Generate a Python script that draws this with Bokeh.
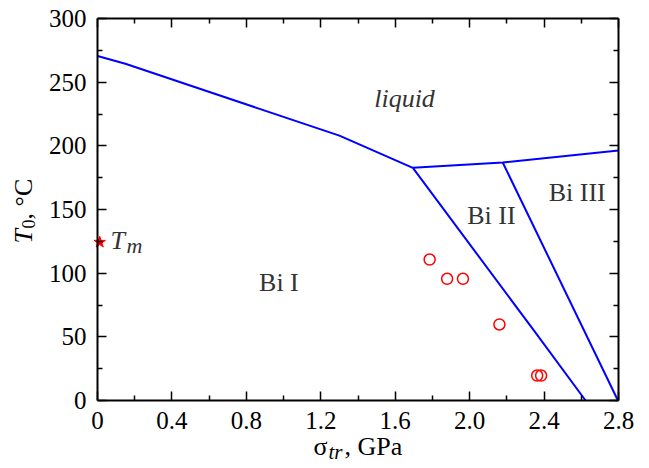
import math
from bokeh.plotting import figure
from bokeh.models import LinearAxis, FixedTicker, CustomJSTickFormatter, Label, Range1d
from bokeh.embed import file_html
from bokeh.resources import INLINE

# ---- data (sigma_tr in GPa, T0 in deg C) ----
liq_bi1_x = [0.0, 0.15, 1.30, 1.695]
liq_bi1_y = [270.5, 264.5, 208.0, 182.7]
liq_hp_x = [1.695, 2.178, 2.80]
liq_hp_y = [182.7, 186.9, 196.3]
bi1_bi2_x = [1.695, 2.345, 2.623]
bi1_bi2_y = [182.7, 55.0, 0.0]
bi2_bi3_x = [2.178, 2.797]
bi2_bi3_y = [186.9, 0.0]
exp_x = [1.785, 1.879, 1.964, 2.160, 2.363, 2.384]
exp_y = [110.7, 95.6, 95.6, 59.7, 19.6, 19.6]
tm_x = [0.012]
tm_y = [124.3]
x_ticks = [0, 0.4, 0.8, 1.2, 1.6, 2.0, 2.4, 2.8]
x_minor = [0.2, 0.6, 1.0, 1.4, 1.8, 2.2, 2.6]
y_ticks = [0, 50, 100, 150, 200, 250, 300]
y_minor = [25, 75, 125, 175, 225, 275]
x_lim = (0.0, 2.8)
y_lim = (0.0, 300.0)
regions = ["liquid", "Bi I", "Bi II", "Bi III"]
region_x = [1.65, 0.975, 2.117, 2.578]
region_y = [229.3, 85.1, 137.4, 155.3]

FONT = "Liberation Serif"
FS = 25      # tick labels
LFS = 26     # labels
SFS = 18     # subscripts
UP = 10      # baseline correction (px) for in-plot labels
XUP = 2      # baseline correction (px) for the x-axis title

# canvas geometry: plot box occupies px 97..618 (x) and 18..400 (y)
W, H = 640, 466
BOX_L, BOX_R, BOX_T, BOX_B = 97, 618, 18, 400
sx = (BOX_R - BOX_L) / (x_lim[1] - x_lim[0])
sy = (BOX_B - BOX_T) / (y_lim[1] - y_lim[0])
xr = Range1d(x_lim[0] - BOX_L / sx, x_lim[1] + (W - BOX_R) / sx)
yr_ = Range1d(y_lim[0] - (H - BOX_B) / sy, y_lim[1] + BOX_T / sy)

p = figure(width=W, height=H, output_backend="svg", toolbar_location=None,
           x_range=xr, y_range=yr_,
           min_border_left=0, min_border_right=0, min_border_top=0, min_border_bottom=0,
           x_axis_location=None, y_axis_location=None)
p.xgrid.visible = False
p.ygrid.visible = False
p.outline_line_color = None
p.background_fill_color = "white"
p.border_fill_color = "white"

def style_axis(ax, ticks, minor, bounds, loc, labels=True):
    ax.ticker = FixedTicker(ticks=ticks, minor_ticks=minor)
    ax.bounds = bounds
    ax.fixed_location = loc
    ax.axis_line_color = "black"
    ax.axis_line_width = 2
    ax.major_tick_in = 9
    ax.major_tick_out = 0
    ax.minor_tick_in = 5
    ax.minor_tick_out = 0
    ax.major_tick_line_width = 1.5
    ax.minor_tick_line_width = 1.5
    ax.major_tick_line_color = "black"
    ax.minor_tick_line_color = "black"
    if labels:
        ax.major_label_text_font = FONT
        ax.major_label_text_font_size = f"{FS}px"
        ax.major_label_text_color = "black"
        ax.major_label_standoff = 11
    else:
        ax.major_label_text_font_size = "0px"
        ax.major_label_standoff = 0
        ax.formatter = CustomJSTickFormatter(code="return '';")

xb = LinearAxis()
style_axis(xb, x_ticks, x_minor, x_lim, y_lim[0])
xb.formatter = CustomJSTickFormatter(code="return tick == 0 ? '0' : tick.toFixed(1);")
p.add_layout(xb, "below")
xt = LinearAxis()
style_axis(xt, x_ticks, x_minor, x_lim, y_lim[1], labels=False)
p.add_layout(xt, "above")
yl = LinearAxis()
style_axis(yl, y_ticks, y_minor, y_lim, x_lim[0])
p.add_layout(yl, "left")
yra = LinearAxis()
style_axis(yra, y_ticks, y_minor, y_lim, x_lim[1], labels=False)
p.add_layout(yra, "right")

# phase boundaries
for xs, ys in [(liq_bi1_x, liq_bi1_y), (liq_hp_x, liq_hp_y),
               (bi1_bi2_x, bi1_bi2_y), (bi2_bi3_x, bi2_bi3_y)]:
    p.line(xs, ys, line_color="#0000ff", line_width=2)

# experimental points
p.scatter(exp_x, exp_y, marker="circle", size=11, fill_color=None,
          line_color="#ff0000", line_width=1.5)
# melting point star
p.scatter(tm_x, tm_y, marker="star", size=12, fill_color="#ff0000",
          line_color="#ff0000", line_width=1)

# region labels
for t, xx, yy in zip(regions, region_x, region_y):
    p.add_layout(Label(x=xx, y=yy, y_offset=UP, text=t, text_font=FONT,
                       text_font_size=f"{LFS}px",
                       text_font_style="italic" if t == "liquid" else "normal",
                       text_color="#333333", text_align="center",
                       text_baseline="alphabetic"))

# T_m label
p.add_layout(Label(x=0.07, y=117.8, y_offset=UP, text="T", text_font=FONT,
                   text_font_size=f"{LFS}px", text_font_style="italic",
                   text_color="#333333", text_baseline="alphabetic"))
p.add_layout(Label(x=0.07, y=117.8, x_offset=16, y_offset=UP - 5, text="m", text_font=FONT,
                   text_font_size="22px", text_font_style="italic", text_color="#333333",
                   text_baseline="alphabetic"))

# x axis label: sigma_tr, GPa
xl_x, xl_y = 1.161, -37.7
p.add_layout(Label(x=xl_x, y=xl_y, y_offset=XUP, text="σ",
                   text_font=FONT, text_font_size=f"{LFS}px", text_color="black",
                   text_baseline="alphabetic"))
p.add_layout(Label(x=xl_x, y=xl_y, x_offset=15, y_offset=XUP - 5, text="tr",
                   text_font=FONT, text_font_size="21px", text_font_style="italic",
                   text_color="black", text_baseline="alphabetic"))
p.add_layout(Label(x=xl_x, y=xl_y, x_offset=31, y_offset=XUP, text=", GPa",
                   text_font=FONT, text_font_size=f"{LFS}px", text_color="black",
                   text_baseline="alphabetic"))

# y axis label: T_0, °C (rotated)
yl_x, yl_y = -0.3977, 123.3
p.add_layout(Label(x=yl_x, y=yl_y, text="T",
                   angle=math.pi / 2, text_font=FONT, text_font_size=f"{LFS}px",
                   text_font_style="italic", text_color="black", text_baseline="alphabetic"))
p.add_layout(Label(x=yl_x, y=yl_y, x_offset=5, y_offset=15, text="0",
                   angle=math.pi / 2, text_font=FONT, text_font_size=f"{SFS}px",
                   text_color="black", text_baseline="alphabetic"))
p.add_layout(Label(x=yl_x, y=yl_y, y_offset=24, text=", °C",
                   angle=math.pi / 2, text_font=FONT, text_font_size=f"{LFS}px",
                   text_color="black", text_baseline="alphabetic"))

open("out.html", "w").write(file_html(p, INLINE))
